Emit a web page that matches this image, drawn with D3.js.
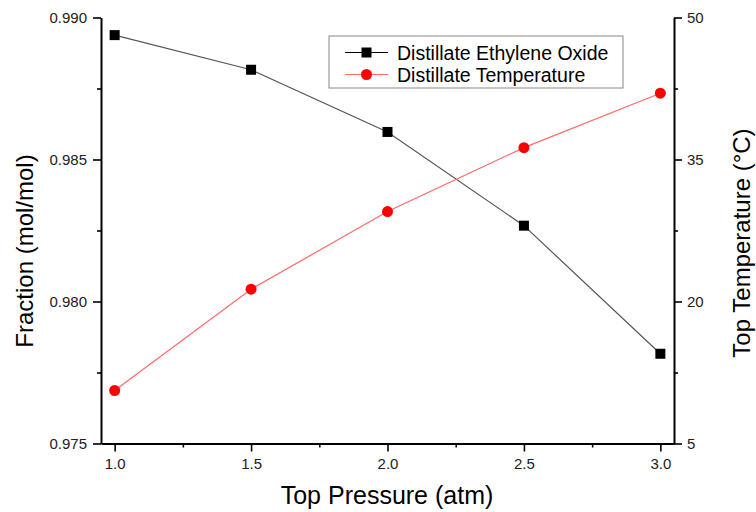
<!DOCTYPE html>
<html>
<head>
<meta charset="utf-8">
<script src="https://cdn.jsdelivr.net/npm/d3@7"></script>
<style>
  body { margin: 0; background: #fff; }
  svg text { font-family: "Liberation Sans", Arial, sans-serif; }
</style>
</head>
<body>
<div id="chart"></div>
<script>
// data
const pressure = [1.0, 1.5, 2.0, 2.5, 3.0];
const ethyleneOxide = [0.98938, 0.98816, 0.98597, 0.98267, 0.97816];
const temperature = [10.6, 21.3, 29.5, 36.25, 42.0];
const xTicks = [1.0, 1.5, 2.0, 2.5, 3.0];
const leftTicks = [0.975, 0.980, 0.985, 0.990];
const rightTicks = [5, 20, 35, 50];

let width = 756;
let height = 512;
let margin = { top: 17.5, bottom: 68.5, left: 101, right: 82 };

let svg = d3.select('#chart')
            .append('svg')
            .attr('width', width)
            .attr('height', height)
            .style('background', 'white');

let xScale = d3.scaleLinear()
               .domain([0.95, 3.05])
               .range([margin.left, width - margin.right]);
let yLeft = d3.scaleLinear()
              .domain([0.975, 0.990])
              .range([height - margin.bottom, margin.top]);
let yRight = d3.scaleLinear()
               .domain([5, 50])
               .range([height - margin.bottom, margin.top]);

// minor ticks first, then major ticks with labels
function styleAxis(g) {
  g.select('.domain').attr('stroke', '#000').attr('stroke-width', 2);
  g.selectAll('.tick line').attr('stroke', '#000').attr('stroke-width', 1.6);
  g.selectAll('.tick text').attr('fill', '#222').style('font-size', '15px');
}

let xMinor = svg.append('g')
  .attr('transform', `translate(0, ${height - margin.bottom})`)
  .call(d3.axisBottom(xScale).tickValues([1.25, 1.75, 2.25, 2.75]).tickSize(4).tickFormat(''));
xMinor.select('.domain').remove();
xMinor.selectAll('.tick line').attr('stroke', '#000').attr('stroke-width', 1.6);

let xAxis = svg.append('g')
  .attr('transform', `translate(0, ${height - margin.bottom})`)
  .call(d3.axisBottom(xScale).tickValues(xTicks).tickSize(8).tickSizeOuter(0).tickPadding(7).tickFormat(d3.format('.1f')))
  .call(styleAxis);

let lMinor = svg.append('g')
  .attr('transform', `translate(${margin.left}, 0)`)
  .call(d3.axisLeft(yLeft).tickValues([0.9775, 0.9825, 0.9875]).tickSize(4).tickFormat(''));
lMinor.select('.domain').remove();
lMinor.selectAll('.tick line').attr('stroke', '#000').attr('stroke-width', 1.6);

let yAxisL = svg.append('g')
  .attr('transform', `translate(${margin.left}, 0)`)
  .call(d3.axisLeft(yLeft).tickValues(leftTicks).tickSize(8).tickSizeOuter(0).tickPadding(6).tickFormat(d3.format('.3f')))
  .call(styleAxis);

let rMinor = svg.append('g')
  .attr('transform', `translate(${width - margin.right}, 0)`)
  .call(d3.axisRight(yRight).tickValues([12.5, 27.5, 42.5]).tickSize(4).tickFormat(''));
rMinor.select('.domain').remove();
rMinor.selectAll('.tick line').attr('stroke', '#000').attr('stroke-width', 1.6);

let yAxisR = svg.append('g')
  .attr('transform', `translate(${width - margin.right}, 0)`)
  .call(d3.axisRight(yRight).tickValues(rightTicks).tickSize(8).tickSizeOuter(0).tickPadding(5))
  .call(styleAxis);

// axis titles
svg.append('text')
   .attr('x', 387)
   .attr('y', 504)
   .attr('text-anchor', 'middle')
   .style('font-size', '25px')
   .text('Top Pressure (atm)');

svg.append('text')
   .attr('transform', 'translate(33, 251) rotate(-90)')
   .attr('text-anchor', 'middle')
   .style('font-size', '24px')
   .text('Fraction (mol/mol)');

svg.append('text')
   .attr('transform', 'translate(750, 243) rotate(-90)')
   .attr('text-anchor', 'middle')
   .style('font-size', '24px')
   .text('Top Temperature (°C)');

// lines
let lineL = d3.line()
  .x((d, i) => xScale(pressure[i]))
  .y(d => yLeft(d));
let lineR = d3.line()
  .x((d, i) => xScale(pressure[i]))
  .y(d => yRight(d));

svg.append('path')
   .datum(ethyleneOxide)
   .attr('fill', 'none')
   .attr('stroke', '#555')
   .attr('stroke-width', 1.2)
   .attr('d', lineL);

svg.append('path')
   .datum(temperature)
   .attr('fill', 'none')
   .attr('stroke', '#ff6a6a')
   .attr('stroke-width', 1.2)
   .attr('d', lineR);

svg.selectAll('.sq')
   .data(ethyleneOxide)
   .enter()
   .append('rect')
   .attr('x', (d, i) => xScale(pressure[i]) - 5)
   .attr('y', d => yLeft(d) - 5)
   .attr('width', 10)
   .attr('height', 10)
   .attr('fill', '#000');

svg.selectAll('.dot')
   .data(temperature)
   .enter()
   .append('circle')
   .attr('cx', (d, i) => xScale(pressure[i]))
   .attr('cy', d => yRight(d))
   .attr('r', 5.5)
   .attr('fill', '#ff0000');

// legend
const legend = svg.append('g').attr('transform', 'translate(329, 36)');
legend.append('rect')
      .attr('width', 294)
      .attr('height', 52)
      .attr('fill', 'white')
      .attr('stroke', '#888')
      .attr('stroke-width', 1);

const series = [
  { name: 'Distillate Ethylene Oxide', color: '#000', shape: 'square' },
  { name: 'Distillate Temperature', color: '#ff0000', shape: 'circle' }
];
series.forEach((s, i) => {
  let y = 16.5 + i * 22;
  legend.append('line')
        .attr('x1', 16).attr('x2', 59)
        .attr('y1', y).attr('y2', y)
        .attr('stroke', i === 0 ? '#000' : '#ff6a6a')
        .attr('stroke-width', 1.2);
  if (s.shape === 'square') {
    legend.append('rect')
          .attr('x', 37.5 - 5).attr('y', y - 5)
          .attr('width', 10).attr('height', 10)
          .attr('fill', s.color);
  } else {
    legend.append('circle')
          .attr('cx', 37.5).attr('cy', y)
          .attr('r', 5.5)
          .attr('fill', s.color);
  }
  legend.append('text')
        .attr('x', 68)
        .attr('y', y + 7)
        .style('font-size', '19.5px')
        .text(s.name);
});
</script>
</body>
</html>
